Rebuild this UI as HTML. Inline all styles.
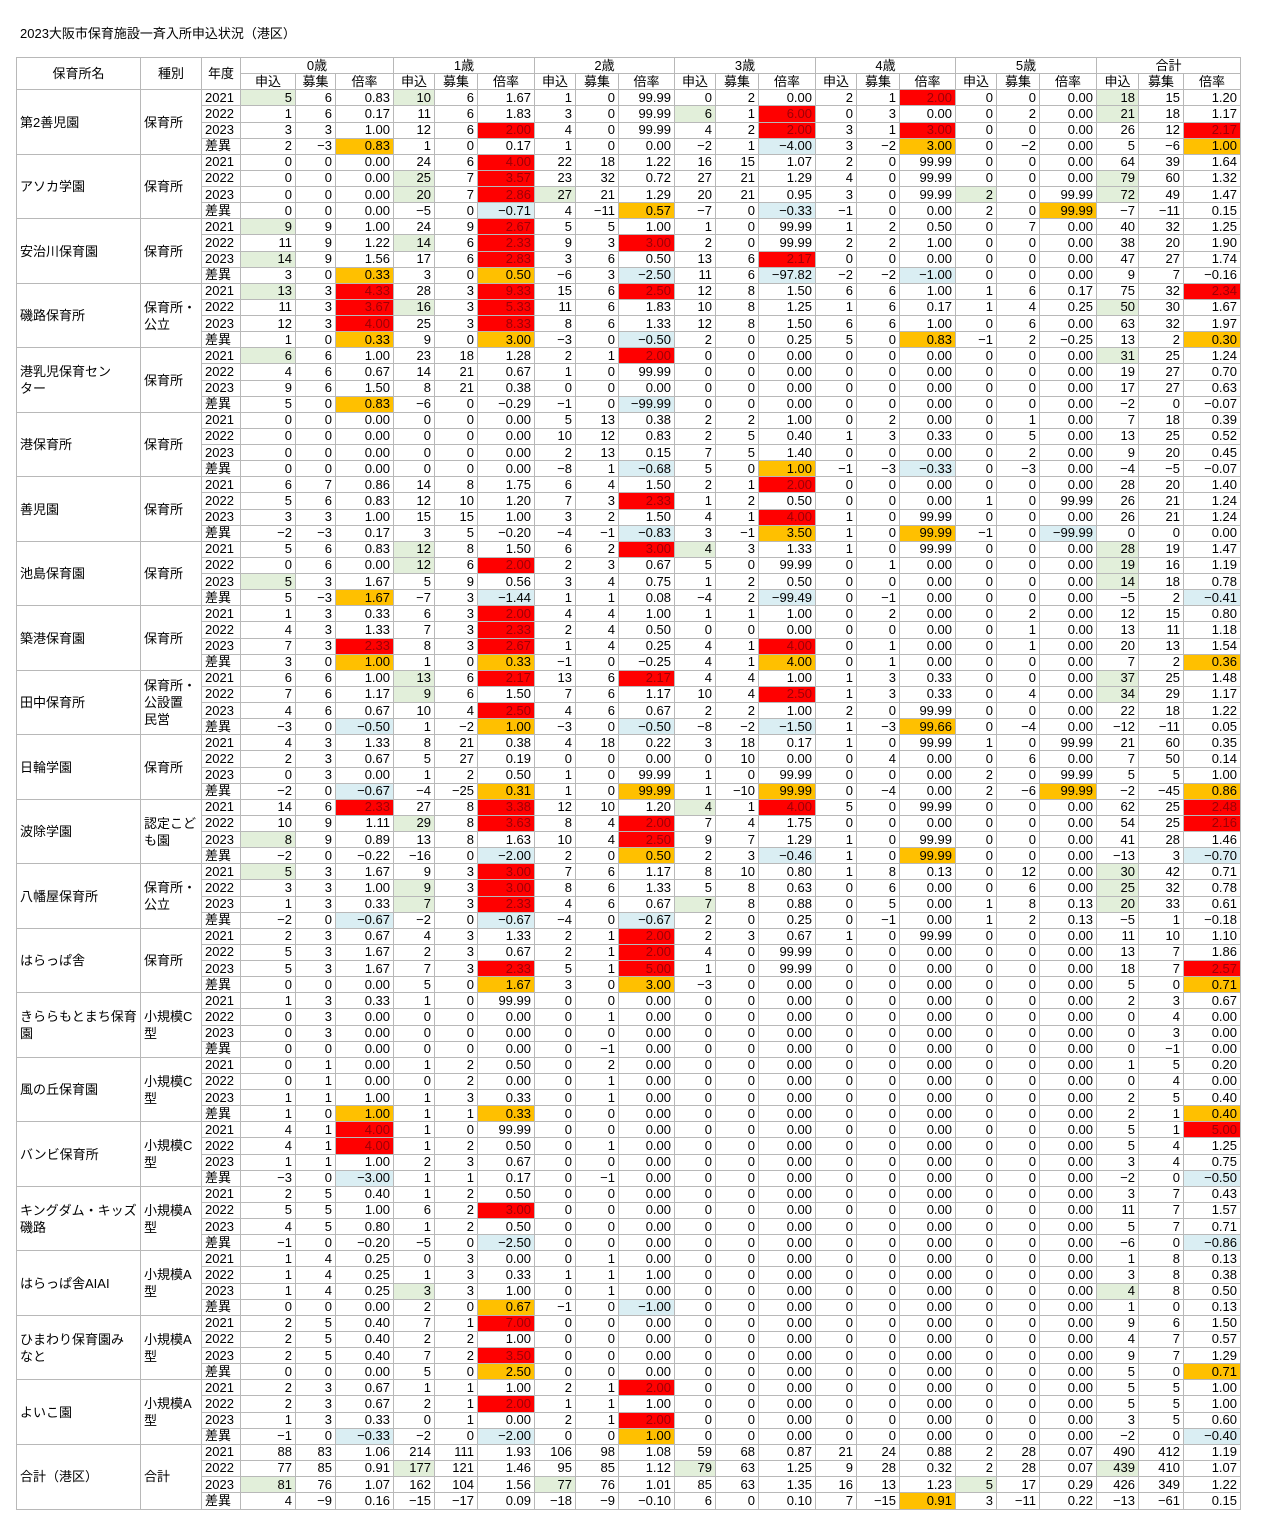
<!DOCTYPE html>
<html><head><meta charset="utf-8">
<style>
body{margin:0;background:#fff;width:1281px;height:1536px;position:relative;font-family:"Liberation Sans","Noto Sans CJK JP",sans-serif;color:#000}
.t{position:absolute;left:20px;top:23px;font-size:13px}
table{position:absolute;left:16px;top:57px;border-collapse:collapse;table-layout:fixed;width:1224px;height:1453px;font-size:13px}
td,th{border:1px solid #b8b8b8;padding:0 3px;height:15px;line-height:14px;text-align:right;white-space:nowrap;overflow:hidden;font-weight:normal}
th{text-align:center}
td.n{text-align:left;white-space:normal;line-height:17px;padding-left:3px}
td.k{text-align:left;white-space:normal;line-height:17px}
td.y{text-align:left}
.g{background:#e2efda}.r{background:#ff0000;color:#9c0006}.o{background:#ffc000}.b{background:#daeef3}
</style></head><body>
<div class="t">2023大阪市保育施設一斉入所申込状況（港区）</div>
<table>
<colgroup><col style="width:124px"><col style="width:61px"><col style="width:39px">
<col style="width:55px"><col style="width:40px"><col style="width:58px">
<col style="width:41px"><col style="width:43px"><col style="width:57px">
<col style="width:41px"><col style="width:43px"><col style="width:56px">
<col style="width:41px"><col style="width:43px"><col style="width:57px">
<col style="width:41px"><col style="width:43px"><col style="width:56px">
<col style="width:41px"><col style="width:43px"><col style="width:57px">
<col style="width:42px"><col style="width:45px"><col style="width:57px"></colgroup>
<tr><th rowspan="2">保育所名</th><th rowspan="2">種別</th><th rowspan="2">年度</th><th colspan="3">0歳</th><th colspan="3">1歳</th><th colspan="3">2歳</th><th colspan="3">3歳</th><th colspan="3">4歳</th><th colspan="3">5歳</th><th colspan="3">合計</th></tr>
<tr><th>申込</th><th>募集</th><th>倍率</th><th>申込</th><th>募集</th><th>倍率</th><th>申込</th><th>募集</th><th>倍率</th><th>申込</th><th>募集</th><th>倍率</th><th>申込</th><th>募集</th><th>倍率</th><th>申込</th><th>募集</th><th>倍率</th><th>申込</th><th>募集</th><th>倍率</th></tr>

<tr><td class="n" rowspan="4">第2善児園</td><td class="k" rowspan="4">保育所</td><td class="y">2021</td><td class="g">5</td><td>6</td><td>0.83</td><td class="g">10</td><td>6</td><td>1.67</td><td>1</td><td>0</td><td>99.99</td><td>0</td><td>2</td><td>0.00</td><td>2</td><td>1</td><td class="r">2.00</td><td>0</td><td>0</td><td>0.00</td><td class="g">18</td><td>15</td><td>1.20</td></tr>
<tr><td class="y">2022</td><td>1</td><td>6</td><td>0.17</td><td>11</td><td>6</td><td>1.83</td><td>3</td><td>0</td><td>99.99</td><td class="g">6</td><td>1</td><td class="r">6.00</td><td>0</td><td>3</td><td>0.00</td><td>0</td><td>2</td><td>0.00</td><td class="g">21</td><td>18</td><td>1.17</td></tr>
<tr><td class="y">2023</td><td>3</td><td>3</td><td>1.00</td><td>12</td><td>6</td><td class="r">2.00</td><td>4</td><td>0</td><td>99.99</td><td>4</td><td>2</td><td class="r">2.00</td><td>3</td><td>1</td><td class="r">3.00</td><td>0</td><td>0</td><td>0.00</td><td>26</td><td>12</td><td class="r">2.17</td></tr>
<tr><td class="y">差異</td><td>2</td><td>−3</td><td class="o">0.83</td><td>1</td><td>0</td><td>0.17</td><td>1</td><td>0</td><td>0.00</td><td>−2</td><td>1</td><td class="b">−4.00</td><td>3</td><td>−2</td><td class="o">3.00</td><td>0</td><td>−2</td><td>0.00</td><td>5</td><td>−6</td><td class="o">1.00</td></tr>

<tr><td class="n" rowspan="4">アソカ学園</td><td class="k" rowspan="4">保育所</td><td class="y">2021</td><td>0</td><td>0</td><td>0.00</td><td>24</td><td>6</td><td class="r">4.00</td><td>22</td><td>18</td><td>1.22</td><td>16</td><td>15</td><td>1.07</td><td>2</td><td>0</td><td>99.99</td><td>0</td><td>0</td><td>0.00</td><td>64</td><td>39</td><td>1.64</td></tr>
<tr><td class="y">2022</td><td>0</td><td>0</td><td>0.00</td><td class="g">25</td><td>7</td><td class="r">3.57</td><td>23</td><td>32</td><td>0.72</td><td>27</td><td>21</td><td>1.29</td><td>4</td><td>0</td><td>99.99</td><td>0</td><td>0</td><td>0.00</td><td class="g">79</td><td>60</td><td>1.32</td></tr>
<tr><td class="y">2023</td><td>0</td><td>0</td><td>0.00</td><td class="g">20</td><td>7</td><td class="r">2.86</td><td class="g">27</td><td>21</td><td>1.29</td><td>20</td><td>21</td><td>0.95</td><td>3</td><td>0</td><td>99.99</td><td class="g">2</td><td>0</td><td>99.99</td><td class="g">72</td><td>49</td><td>1.47</td></tr>
<tr><td class="y">差異</td><td>0</td><td>0</td><td>0.00</td><td>−5</td><td>0</td><td class="b">−0.71</td><td>4</td><td>−11</td><td class="o">0.57</td><td>−7</td><td>0</td><td class="b">−0.33</td><td>−1</td><td>0</td><td>0.00</td><td>2</td><td>0</td><td class="o">99.99</td><td>−7</td><td>−11</td><td>0.15</td></tr>

<tr><td class="n" rowspan="4">安治川保育園</td><td class="k" rowspan="4">保育所</td><td class="y">2021</td><td class="g">9</td><td>9</td><td>1.00</td><td>24</td><td>9</td><td class="r">2.67</td><td>5</td><td>5</td><td>1.00</td><td>1</td><td>0</td><td>99.99</td><td>1</td><td>2</td><td>0.50</td><td>0</td><td>7</td><td>0.00</td><td>40</td><td>32</td><td>1.25</td></tr>
<tr><td class="y">2022</td><td>11</td><td>9</td><td>1.22</td><td class="g">14</td><td>6</td><td class="r">2.33</td><td>9</td><td>3</td><td class="r">3.00</td><td>2</td><td>0</td><td>99.99</td><td>2</td><td>2</td><td>1.00</td><td>0</td><td>0</td><td>0.00</td><td>38</td><td>20</td><td>1.90</td></tr>
<tr><td class="y">2023</td><td class="g">14</td><td>9</td><td>1.56</td><td>17</td><td>6</td><td class="r">2.83</td><td>3</td><td>6</td><td>0.50</td><td>13</td><td>6</td><td class="r">2.17</td><td>0</td><td>0</td><td>0.00</td><td>0</td><td>0</td><td>0.00</td><td>47</td><td>27</td><td>1.74</td></tr>
<tr><td class="y">差異</td><td>3</td><td>0</td><td class="o">0.33</td><td>3</td><td>0</td><td class="o">0.50</td><td>−6</td><td>3</td><td class="b">−2.50</td><td>11</td><td>6</td><td class="b">−97.82</td><td>−2</td><td>−2</td><td class="b">−1.00</td><td>0</td><td>0</td><td>0.00</td><td>9</td><td>7</td><td>−0.16</td></tr>

<tr><td class="n" rowspan="4">磯路保育所</td><td class="k" rowspan="4">保育所・<br>公立</td><td class="y">2021</td><td class="g">13</td><td>3</td><td class="r">4.33</td><td>28</td><td>3</td><td class="r">9.33</td><td>15</td><td>6</td><td class="r">2.50</td><td>12</td><td>8</td><td>1.50</td><td>6</td><td>6</td><td>1.00</td><td>1</td><td>6</td><td>0.17</td><td>75</td><td>32</td><td class="r">2.34</td></tr>
<tr><td class="y">2022</td><td>11</td><td>3</td><td class="r">3.67</td><td class="g">16</td><td>3</td><td class="r">5.33</td><td>11</td><td>6</td><td>1.83</td><td>10</td><td>8</td><td>1.25</td><td>1</td><td>6</td><td>0.17</td><td>1</td><td>4</td><td>0.25</td><td class="g">50</td><td>30</td><td>1.67</td></tr>
<tr><td class="y">2023</td><td>12</td><td>3</td><td class="r">4.00</td><td>25</td><td>3</td><td class="r">8.33</td><td>8</td><td>6</td><td>1.33</td><td>12</td><td>8</td><td>1.50</td><td>6</td><td>6</td><td>1.00</td><td>0</td><td>6</td><td>0.00</td><td>63</td><td>32</td><td>1.97</td></tr>
<tr><td class="y">差異</td><td>1</td><td>0</td><td class="o">0.33</td><td>9</td><td>0</td><td class="o">3.00</td><td>−3</td><td>0</td><td class="b">−0.50</td><td>2</td><td>0</td><td>0.25</td><td>5</td><td>0</td><td class="o">0.83</td><td>−1</td><td>2</td><td>−0.25</td><td>13</td><td>2</td><td class="o">0.30</td></tr>

<tr><td class="n" rowspan="4">港乳児保育セン<br>ター</td><td class="k" rowspan="4">保育所</td><td class="y">2021</td><td class="g">6</td><td>6</td><td>1.00</td><td>23</td><td>18</td><td>1.28</td><td>2</td><td>1</td><td class="r">2.00</td><td>0</td><td>0</td><td>0.00</td><td>0</td><td>0</td><td>0.00</td><td>0</td><td>0</td><td>0.00</td><td class="g">31</td><td>25</td><td>1.24</td></tr>
<tr><td class="y">2022</td><td>4</td><td>6</td><td>0.67</td><td>14</td><td>21</td><td>0.67</td><td>1</td><td>0</td><td>99.99</td><td>0</td><td>0</td><td>0.00</td><td>0</td><td>0</td><td>0.00</td><td>0</td><td>0</td><td>0.00</td><td>19</td><td>27</td><td>0.70</td></tr>
<tr><td class="y">2023</td><td>9</td><td>6</td><td>1.50</td><td>8</td><td>21</td><td>0.38</td><td>0</td><td>0</td><td>0.00</td><td>0</td><td>0</td><td>0.00</td><td>0</td><td>0</td><td>0.00</td><td>0</td><td>0</td><td>0.00</td><td>17</td><td>27</td><td>0.63</td></tr>
<tr><td class="y">差異</td><td>5</td><td>0</td><td class="o">0.83</td><td>−6</td><td>0</td><td>−0.29</td><td>−1</td><td>0</td><td class="b">−99.99</td><td>0</td><td>0</td><td>0.00</td><td>0</td><td>0</td><td>0.00</td><td>0</td><td>0</td><td>0.00</td><td>−2</td><td>0</td><td>−0.07</td></tr>

<tr><td class="n" rowspan="4">港保育所</td><td class="k" rowspan="4">保育所</td><td class="y">2021</td><td>0</td><td>0</td><td>0.00</td><td>0</td><td>0</td><td>0.00</td><td>5</td><td>13</td><td>0.38</td><td>2</td><td>2</td><td>1.00</td><td>0</td><td>2</td><td>0.00</td><td>0</td><td>1</td><td>0.00</td><td>7</td><td>18</td><td>0.39</td></tr>
<tr><td class="y">2022</td><td>0</td><td>0</td><td>0.00</td><td>0</td><td>0</td><td>0.00</td><td>10</td><td>12</td><td>0.83</td><td>2</td><td>5</td><td>0.40</td><td>1</td><td>3</td><td>0.33</td><td>0</td><td>5</td><td>0.00</td><td>13</td><td>25</td><td>0.52</td></tr>
<tr><td class="y">2023</td><td>0</td><td>0</td><td>0.00</td><td>0</td><td>0</td><td>0.00</td><td>2</td><td>13</td><td>0.15</td><td>7</td><td>5</td><td>1.40</td><td>0</td><td>0</td><td>0.00</td><td>0</td><td>2</td><td>0.00</td><td>9</td><td>20</td><td>0.45</td></tr>
<tr><td class="y">差異</td><td>0</td><td>0</td><td>0.00</td><td>0</td><td>0</td><td>0.00</td><td>−8</td><td>1</td><td class="b">−0.68</td><td>5</td><td>0</td><td class="o">1.00</td><td>−1</td><td>−3</td><td class="b">−0.33</td><td>0</td><td>−3</td><td>0.00</td><td>−4</td><td>−5</td><td>−0.07</td></tr>

<tr><td class="n" rowspan="4">善児園</td><td class="k" rowspan="4">保育所</td><td class="y">2021</td><td>6</td><td>7</td><td>0.86</td><td>14</td><td>8</td><td>1.75</td><td>6</td><td>4</td><td>1.50</td><td>2</td><td>1</td><td class="r">2.00</td><td>0</td><td>0</td><td>0.00</td><td>0</td><td>0</td><td>0.00</td><td>28</td><td>20</td><td>1.40</td></tr>
<tr><td class="y">2022</td><td>5</td><td>6</td><td>0.83</td><td>12</td><td>10</td><td>1.20</td><td>7</td><td>3</td><td class="r">2.33</td><td>1</td><td>2</td><td>0.50</td><td>0</td><td>0</td><td>0.00</td><td>1</td><td>0</td><td>99.99</td><td>26</td><td>21</td><td>1.24</td></tr>
<tr><td class="y">2023</td><td>3</td><td>3</td><td>1.00</td><td>15</td><td>15</td><td>1.00</td><td>3</td><td>2</td><td>1.50</td><td>4</td><td>1</td><td class="r">4.00</td><td>1</td><td>0</td><td>99.99</td><td>0</td><td>0</td><td>0.00</td><td>26</td><td>21</td><td>1.24</td></tr>
<tr><td class="y">差異</td><td>−2</td><td>−3</td><td>0.17</td><td>3</td><td>5</td><td>−0.20</td><td>−4</td><td>−1</td><td class="b">−0.83</td><td>3</td><td>−1</td><td class="o">3.50</td><td>1</td><td>0</td><td class="o">99.99</td><td>−1</td><td>0</td><td class="b">−99.99</td><td>0</td><td>0</td><td>0.00</td></tr>

<tr><td class="n" rowspan="4">池島保育園</td><td class="k" rowspan="4">保育所</td><td class="y">2021</td><td>5</td><td>6</td><td>0.83</td><td class="g">12</td><td>8</td><td>1.50</td><td>6</td><td>2</td><td class="r">3.00</td><td class="g">4</td><td>3</td><td>1.33</td><td>1</td><td>0</td><td>99.99</td><td>0</td><td>0</td><td>0.00</td><td class="g">28</td><td>19</td><td>1.47</td></tr>
<tr><td class="y">2022</td><td>0</td><td>6</td><td>0.00</td><td class="g">12</td><td>6</td><td class="r">2.00</td><td>2</td><td>3</td><td>0.67</td><td>5</td><td>0</td><td>99.99</td><td>0</td><td>1</td><td>0.00</td><td>0</td><td>0</td><td>0.00</td><td class="g">19</td><td>16</td><td>1.19</td></tr>
<tr><td class="y">2023</td><td class="g">5</td><td>3</td><td>1.67</td><td>5</td><td>9</td><td>0.56</td><td>3</td><td>4</td><td>0.75</td><td>1</td><td>2</td><td>0.50</td><td>0</td><td>0</td><td>0.00</td><td>0</td><td>0</td><td>0.00</td><td class="g">14</td><td>18</td><td>0.78</td></tr>
<tr><td class="y">差異</td><td>5</td><td>−3</td><td class="o">1.67</td><td>−7</td><td>3</td><td class="b">−1.44</td><td>1</td><td>1</td><td>0.08</td><td>−4</td><td>2</td><td class="b">−99.49</td><td>0</td><td>−1</td><td>0.00</td><td>0</td><td>0</td><td>0.00</td><td>−5</td><td>2</td><td class="b">−0.41</td></tr>

<tr><td class="n" rowspan="4">築港保育園</td><td class="k" rowspan="4">保育所</td><td class="y">2021</td><td>1</td><td>3</td><td>0.33</td><td>6</td><td>3</td><td class="r">2.00</td><td>4</td><td>4</td><td>1.00</td><td>1</td><td>1</td><td>1.00</td><td>0</td><td>2</td><td>0.00</td><td>0</td><td>2</td><td>0.00</td><td>12</td><td>15</td><td>0.80</td></tr>
<tr><td class="y">2022</td><td>4</td><td>3</td><td>1.33</td><td>7</td><td>3</td><td class="r">2.33</td><td>2</td><td>4</td><td>0.50</td><td>0</td><td>0</td><td>0.00</td><td>0</td><td>0</td><td>0.00</td><td>0</td><td>1</td><td>0.00</td><td>13</td><td>11</td><td>1.18</td></tr>
<tr><td class="y">2023</td><td>7</td><td>3</td><td class="r">2.33</td><td>8</td><td>3</td><td class="r">2.67</td><td>1</td><td>4</td><td>0.25</td><td>4</td><td>1</td><td class="r">4.00</td><td>0</td><td>1</td><td>0.00</td><td>0</td><td>1</td><td>0.00</td><td>20</td><td>13</td><td>1.54</td></tr>
<tr><td class="y">差異</td><td>3</td><td>0</td><td class="o">1.00</td><td>1</td><td>0</td><td class="o">0.33</td><td>−1</td><td>0</td><td>−0.25</td><td>4</td><td>1</td><td class="o">4.00</td><td>0</td><td>1</td><td>0.00</td><td>0</td><td>0</td><td>0.00</td><td>7</td><td>2</td><td class="o">0.36</td></tr>

<tr><td class="n" rowspan="4">田中保育所</td><td class="k" rowspan="4">保育所・<br>公設置<br>民営</td><td class="y">2021</td><td>6</td><td>6</td><td>1.00</td><td class="g">13</td><td>6</td><td class="r">2.17</td><td>13</td><td>6</td><td class="r">2.17</td><td>4</td><td>4</td><td>1.00</td><td>1</td><td>3</td><td>0.33</td><td>0</td><td>0</td><td>0.00</td><td class="g">37</td><td>25</td><td>1.48</td></tr>
<tr><td class="y">2022</td><td>7</td><td>6</td><td>1.17</td><td class="g">9</td><td>6</td><td>1.50</td><td>7</td><td>6</td><td>1.17</td><td>10</td><td>4</td><td class="r">2.50</td><td>1</td><td>3</td><td>0.33</td><td>0</td><td>4</td><td>0.00</td><td class="g">34</td><td>29</td><td>1.17</td></tr>
<tr><td class="y">2023</td><td>4</td><td>6</td><td>0.67</td><td>10</td><td>4</td><td class="r">2.50</td><td>4</td><td>6</td><td>0.67</td><td>2</td><td>2</td><td>1.00</td><td>2</td><td>0</td><td>99.99</td><td>0</td><td>0</td><td>0.00</td><td>22</td><td>18</td><td>1.22</td></tr>
<tr><td class="y">差異</td><td>−3</td><td>0</td><td class="b">−0.50</td><td>1</td><td>−2</td><td class="o">1.00</td><td>−3</td><td>0</td><td class="b">−0.50</td><td>−8</td><td>−2</td><td class="b">−1.50</td><td>1</td><td>−3</td><td class="o">99.66</td><td>0</td><td>−4</td><td>0.00</td><td>−12</td><td>−11</td><td>0.05</td></tr>

<tr><td class="n" rowspan="4">日輪学園</td><td class="k" rowspan="4">保育所</td><td class="y">2021</td><td>4</td><td>3</td><td>1.33</td><td>8</td><td>21</td><td>0.38</td><td>4</td><td>18</td><td>0.22</td><td>3</td><td>18</td><td>0.17</td><td>1</td><td>0</td><td>99.99</td><td>1</td><td>0</td><td>99.99</td><td>21</td><td>60</td><td>0.35</td></tr>
<tr><td class="y">2022</td><td>2</td><td>3</td><td>0.67</td><td>5</td><td>27</td><td>0.19</td><td>0</td><td>0</td><td>0.00</td><td>0</td><td>10</td><td>0.00</td><td>0</td><td>4</td><td>0.00</td><td>0</td><td>6</td><td>0.00</td><td>7</td><td>50</td><td>0.14</td></tr>
<tr><td class="y">2023</td><td>0</td><td>3</td><td>0.00</td><td>1</td><td>2</td><td>0.50</td><td>1</td><td>0</td><td>99.99</td><td>1</td><td>0</td><td>99.99</td><td>0</td><td>0</td><td>0.00</td><td>2</td><td>0</td><td>99.99</td><td>5</td><td>5</td><td>1.00</td></tr>
<tr><td class="y">差異</td><td>−2</td><td>0</td><td class="b">−0.67</td><td>−4</td><td>−25</td><td class="o">0.31</td><td>1</td><td>0</td><td class="o">99.99</td><td>1</td><td>−10</td><td class="o">99.99</td><td>0</td><td>−4</td><td>0.00</td><td>2</td><td>−6</td><td class="o">99.99</td><td>−2</td><td>−45</td><td class="o">0.86</td></tr>

<tr><td class="n" rowspan="4">波除学園</td><td class="k" rowspan="4">認定こど<br>も園</td><td class="y">2021</td><td>14</td><td>6</td><td class="r">2.33</td><td>27</td><td>8</td><td class="r">3.38</td><td>12</td><td>10</td><td>1.20</td><td class="g">4</td><td>1</td><td class="r">4.00</td><td>5</td><td>0</td><td>99.99</td><td>0</td><td>0</td><td>0.00</td><td>62</td><td>25</td><td class="r">2.48</td></tr>
<tr><td class="y">2022</td><td>10</td><td>9</td><td>1.11</td><td class="g">29</td><td>8</td><td class="r">3.63</td><td>8</td><td>4</td><td class="r">2.00</td><td>7</td><td>4</td><td>1.75</td><td>0</td><td>0</td><td>0.00</td><td>0</td><td>0</td><td>0.00</td><td>54</td><td>25</td><td class="r">2.16</td></tr>
<tr><td class="y">2023</td><td class="g">8</td><td>9</td><td>0.89</td><td>13</td><td>8</td><td>1.63</td><td>10</td><td>4</td><td class="r">2.50</td><td>9</td><td>7</td><td>1.29</td><td>1</td><td>0</td><td>99.99</td><td>0</td><td>0</td><td>0.00</td><td>41</td><td>28</td><td>1.46</td></tr>
<tr><td class="y">差異</td><td>−2</td><td>0</td><td>−0.22</td><td>−16</td><td>0</td><td class="b">−2.00</td><td>2</td><td>0</td><td class="o">0.50</td><td>2</td><td>3</td><td class="b">−0.46</td><td>1</td><td>0</td><td class="o">99.99</td><td>0</td><td>0</td><td>0.00</td><td>−13</td><td>3</td><td class="b">−0.70</td></tr>

<tr><td class="n" rowspan="4">八幡屋保育所</td><td class="k" rowspan="4">保育所・<br>公立</td><td class="y">2021</td><td class="g">5</td><td>3</td><td>1.67</td><td>9</td><td>3</td><td class="r">3.00</td><td>7</td><td>6</td><td>1.17</td><td>8</td><td>10</td><td>0.80</td><td>1</td><td>8</td><td>0.13</td><td>0</td><td>12</td><td>0.00</td><td class="g">30</td><td>42</td><td>0.71</td></tr>
<tr><td class="y">2022</td><td>3</td><td>3</td><td>1.00</td><td class="g">9</td><td>3</td><td class="r">3.00</td><td>8</td><td>6</td><td>1.33</td><td>5</td><td>8</td><td>0.63</td><td>0</td><td>6</td><td>0.00</td><td>0</td><td>6</td><td>0.00</td><td class="g">25</td><td>32</td><td>0.78</td></tr>
<tr><td class="y">2023</td><td>1</td><td>3</td><td>0.33</td><td class="g">7</td><td>3</td><td class="r">2.33</td><td>4</td><td>6</td><td>0.67</td><td class="g">7</td><td>8</td><td>0.88</td><td>0</td><td>5</td><td>0.00</td><td>1</td><td>8</td><td>0.13</td><td class="g">20</td><td>33</td><td>0.61</td></tr>
<tr><td class="y">差異</td><td>−2</td><td>0</td><td class="b">−0.67</td><td>−2</td><td>0</td><td class="b">−0.67</td><td>−4</td><td>0</td><td class="b">−0.67</td><td>2</td><td>0</td><td>0.25</td><td>0</td><td>−1</td><td>0.00</td><td>1</td><td>2</td><td>0.13</td><td>−5</td><td>1</td><td>−0.18</td></tr>

<tr><td class="n" rowspan="4">はらっぱ舎</td><td class="k" rowspan="4">保育所</td><td class="y">2021</td><td>2</td><td>3</td><td>0.67</td><td>4</td><td>3</td><td>1.33</td><td>2</td><td>1</td><td class="r">2.00</td><td>2</td><td>3</td><td>0.67</td><td>1</td><td>0</td><td>99.99</td><td>0</td><td>0</td><td>0.00</td><td>11</td><td>10</td><td>1.10</td></tr>
<tr><td class="y">2022</td><td>5</td><td>3</td><td>1.67</td><td>2</td><td>3</td><td>0.67</td><td>2</td><td>1</td><td class="r">2.00</td><td>4</td><td>0</td><td>99.99</td><td>0</td><td>0</td><td>0.00</td><td>0</td><td>0</td><td>0.00</td><td>13</td><td>7</td><td>1.86</td></tr>
<tr><td class="y">2023</td><td>5</td><td>3</td><td>1.67</td><td>7</td><td>3</td><td class="r">2.33</td><td>5</td><td>1</td><td class="r">5.00</td><td>1</td><td>0</td><td>99.99</td><td>0</td><td>0</td><td>0.00</td><td>0</td><td>0</td><td>0.00</td><td>18</td><td>7</td><td class="r">2.57</td></tr>
<tr><td class="y">差異</td><td>0</td><td>0</td><td>0.00</td><td>5</td><td>0</td><td class="o">1.67</td><td>3</td><td>0</td><td class="o">3.00</td><td>−3</td><td>0</td><td>0.00</td><td>0</td><td>0</td><td>0.00</td><td>0</td><td>0</td><td>0.00</td><td>5</td><td>0</td><td class="o">0.71</td></tr>

<tr><td class="n" rowspan="4">きららもとまち保育<br>園</td><td class="k" rowspan="4">小規模C<br>型</td><td class="y">2021</td><td>1</td><td>3</td><td>0.33</td><td>1</td><td>0</td><td>99.99</td><td>0</td><td>0</td><td>0.00</td><td>0</td><td>0</td><td>0.00</td><td>0</td><td>0</td><td>0.00</td><td>0</td><td>0</td><td>0.00</td><td>2</td><td>3</td><td>0.67</td></tr>
<tr><td class="y">2022</td><td>0</td><td>3</td><td>0.00</td><td>0</td><td>0</td><td>0.00</td><td>0</td><td>1</td><td>0.00</td><td>0</td><td>0</td><td>0.00</td><td>0</td><td>0</td><td>0.00</td><td>0</td><td>0</td><td>0.00</td><td>0</td><td>4</td><td>0.00</td></tr>
<tr><td class="y">2023</td><td>0</td><td>3</td><td>0.00</td><td>0</td><td>0</td><td>0.00</td><td>0</td><td>0</td><td>0.00</td><td>0</td><td>0</td><td>0.00</td><td>0</td><td>0</td><td>0.00</td><td>0</td><td>0</td><td>0.00</td><td>0</td><td>3</td><td>0.00</td></tr>
<tr><td class="y">差異</td><td>0</td><td>0</td><td>0.00</td><td>0</td><td>0</td><td>0.00</td><td>0</td><td>−1</td><td>0.00</td><td>0</td><td>0</td><td>0.00</td><td>0</td><td>0</td><td>0.00</td><td>0</td><td>0</td><td>0.00</td><td>0</td><td>−1</td><td>0.00</td></tr>

<tr><td class="n" rowspan="4">風の丘保育園</td><td class="k" rowspan="4">小規模C<br>型</td><td class="y">2021</td><td>0</td><td>1</td><td>0.00</td><td>1</td><td>2</td><td>0.50</td><td>0</td><td>2</td><td>0.00</td><td>0</td><td>0</td><td>0.00</td><td>0</td><td>0</td><td>0.00</td><td>0</td><td>0</td><td>0.00</td><td>1</td><td>5</td><td>0.20</td></tr>
<tr><td class="y">2022</td><td>0</td><td>1</td><td>0.00</td><td>0</td><td>2</td><td>0.00</td><td>0</td><td>1</td><td>0.00</td><td>0</td><td>0</td><td>0.00</td><td>0</td><td>0</td><td>0.00</td><td>0</td><td>0</td><td>0.00</td><td>0</td><td>4</td><td>0.00</td></tr>
<tr><td class="y">2023</td><td>1</td><td>1</td><td>1.00</td><td>1</td><td>3</td><td>0.33</td><td>0</td><td>1</td><td>0.00</td><td>0</td><td>0</td><td>0.00</td><td>0</td><td>0</td><td>0.00</td><td>0</td><td>0</td><td>0.00</td><td>2</td><td>5</td><td>0.40</td></tr>
<tr><td class="y">差異</td><td>1</td><td>0</td><td class="o">1.00</td><td>1</td><td>1</td><td class="o">0.33</td><td>0</td><td>0</td><td>0.00</td><td>0</td><td>0</td><td>0.00</td><td>0</td><td>0</td><td>0.00</td><td>0</td><td>0</td><td>0.00</td><td>2</td><td>1</td><td class="o">0.40</td></tr>

<tr><td class="n" rowspan="4">バンビ保育所</td><td class="k" rowspan="4">小規模C<br>型</td><td class="y">2021</td><td>4</td><td>1</td><td class="r">4.00</td><td>1</td><td>0</td><td>99.99</td><td>0</td><td>0</td><td>0.00</td><td>0</td><td>0</td><td>0.00</td><td>0</td><td>0</td><td>0.00</td><td>0</td><td>0</td><td>0.00</td><td>5</td><td>1</td><td class="r">5.00</td></tr>
<tr><td class="y">2022</td><td>4</td><td>1</td><td class="r">4.00</td><td>1</td><td>2</td><td>0.50</td><td>0</td><td>1</td><td>0.00</td><td>0</td><td>0</td><td>0.00</td><td>0</td><td>0</td><td>0.00</td><td>0</td><td>0</td><td>0.00</td><td>5</td><td>4</td><td>1.25</td></tr>
<tr><td class="y">2023</td><td>1</td><td>1</td><td>1.00</td><td>2</td><td>3</td><td>0.67</td><td>0</td><td>0</td><td>0.00</td><td>0</td><td>0</td><td>0.00</td><td>0</td><td>0</td><td>0.00</td><td>0</td><td>0</td><td>0.00</td><td>3</td><td>4</td><td>0.75</td></tr>
<tr><td class="y">差異</td><td>−3</td><td>0</td><td class="b">−3.00</td><td>1</td><td>1</td><td>0.17</td><td>0</td><td>−1</td><td>0.00</td><td>0</td><td>0</td><td>0.00</td><td>0</td><td>0</td><td>0.00</td><td>0</td><td>0</td><td>0.00</td><td>−2</td><td>0</td><td class="b">−0.50</td></tr>

<tr><td class="n" rowspan="4">キングダム・キッズ<br>磯路</td><td class="k" rowspan="4">小規模A<br>型</td><td class="y">2021</td><td>2</td><td>5</td><td>0.40</td><td>1</td><td>2</td><td>0.50</td><td>0</td><td>0</td><td>0.00</td><td>0</td><td>0</td><td>0.00</td><td>0</td><td>0</td><td>0.00</td><td>0</td><td>0</td><td>0.00</td><td>3</td><td>7</td><td>0.43</td></tr>
<tr><td class="y">2022</td><td>5</td><td>5</td><td>1.00</td><td>6</td><td>2</td><td class="r">3.00</td><td>0</td><td>0</td><td>0.00</td><td>0</td><td>0</td><td>0.00</td><td>0</td><td>0</td><td>0.00</td><td>0</td><td>0</td><td>0.00</td><td>11</td><td>7</td><td>1.57</td></tr>
<tr><td class="y">2023</td><td>4</td><td>5</td><td>0.80</td><td>1</td><td>2</td><td>0.50</td><td>0</td><td>0</td><td>0.00</td><td>0</td><td>0</td><td>0.00</td><td>0</td><td>0</td><td>0.00</td><td>0</td><td>0</td><td>0.00</td><td>5</td><td>7</td><td>0.71</td></tr>
<tr><td class="y">差異</td><td>−1</td><td>0</td><td>−0.20</td><td>−5</td><td>0</td><td class="b">−2.50</td><td>0</td><td>0</td><td>0.00</td><td>0</td><td>0</td><td>0.00</td><td>0</td><td>0</td><td>0.00</td><td>0</td><td>0</td><td>0.00</td><td>−6</td><td>0</td><td class="b">−0.86</td></tr>

<tr><td class="n" rowspan="4">はらっぱ舎AIAI</td><td class="k" rowspan="4">小規模A<br>型</td><td class="y">2021</td><td>1</td><td>4</td><td>0.25</td><td>0</td><td>3</td><td>0.00</td><td>0</td><td>1</td><td>0.00</td><td>0</td><td>0</td><td>0.00</td><td>0</td><td>0</td><td>0.00</td><td>0</td><td>0</td><td>0.00</td><td>1</td><td>8</td><td>0.13</td></tr>
<tr><td class="y">2022</td><td>1</td><td>4</td><td>0.25</td><td>1</td><td>3</td><td>0.33</td><td>1</td><td>1</td><td>1.00</td><td>0</td><td>0</td><td>0.00</td><td>0</td><td>0</td><td>0.00</td><td>0</td><td>0</td><td>0.00</td><td>3</td><td>8</td><td>0.38</td></tr>
<tr><td class="y">2023</td><td>1</td><td>4</td><td>0.25</td><td class="g">3</td><td>3</td><td>1.00</td><td>0</td><td>1</td><td>0.00</td><td>0</td><td>0</td><td>0.00</td><td>0</td><td>0</td><td>0.00</td><td>0</td><td>0</td><td>0.00</td><td class="g">4</td><td>8</td><td>0.50</td></tr>
<tr><td class="y">差異</td><td>0</td><td>0</td><td>0.00</td><td>2</td><td>0</td><td class="o">0.67</td><td>−1</td><td>0</td><td class="b">−1.00</td><td>0</td><td>0</td><td>0.00</td><td>0</td><td>0</td><td>0.00</td><td>0</td><td>0</td><td>0.00</td><td>1</td><td>0</td><td>0.13</td></tr>

<tr><td class="n" rowspan="4">ひまわり保育園み<br>なと</td><td class="k" rowspan="4">小規模A<br>型</td><td class="y">2021</td><td>2</td><td>5</td><td>0.40</td><td>7</td><td>1</td><td class="r">7.00</td><td>0</td><td>0</td><td>0.00</td><td>0</td><td>0</td><td>0.00</td><td>0</td><td>0</td><td>0.00</td><td>0</td><td>0</td><td>0.00</td><td>9</td><td>6</td><td>1.50</td></tr>
<tr><td class="y">2022</td><td>2</td><td>5</td><td>0.40</td><td>2</td><td>2</td><td>1.00</td><td>0</td><td>0</td><td>0.00</td><td>0</td><td>0</td><td>0.00</td><td>0</td><td>0</td><td>0.00</td><td>0</td><td>0</td><td>0.00</td><td>4</td><td>7</td><td>0.57</td></tr>
<tr><td class="y">2023</td><td>2</td><td>5</td><td>0.40</td><td>7</td><td>2</td><td class="r">3.50</td><td>0</td><td>0</td><td>0.00</td><td>0</td><td>0</td><td>0.00</td><td>0</td><td>0</td><td>0.00</td><td>0</td><td>0</td><td>0.00</td><td>9</td><td>7</td><td>1.29</td></tr>
<tr><td class="y">差異</td><td>0</td><td>0</td><td>0.00</td><td>5</td><td>0</td><td class="o">2.50</td><td>0</td><td>0</td><td>0.00</td><td>0</td><td>0</td><td>0.00</td><td>0</td><td>0</td><td>0.00</td><td>0</td><td>0</td><td>0.00</td><td>5</td><td>0</td><td class="o">0.71</td></tr>

<tr><td class="n" rowspan="4">よいこ園</td><td class="k" rowspan="4">小規模A<br>型</td><td class="y">2021</td><td>2</td><td>3</td><td>0.67</td><td>1</td><td>1</td><td>1.00</td><td>2</td><td>1</td><td class="r">2.00</td><td>0</td><td>0</td><td>0.00</td><td>0</td><td>0</td><td>0.00</td><td>0</td><td>0</td><td>0.00</td><td>5</td><td>5</td><td>1.00</td></tr>
<tr><td class="y">2022</td><td>2</td><td>3</td><td>0.67</td><td>2</td><td>1</td><td class="r">2.00</td><td>1</td><td>1</td><td>1.00</td><td>0</td><td>0</td><td>0.00</td><td>0</td><td>0</td><td>0.00</td><td>0</td><td>0</td><td>0.00</td><td>5</td><td>5</td><td>1.00</td></tr>
<tr><td class="y">2023</td><td>1</td><td>3</td><td>0.33</td><td>0</td><td>1</td><td>0.00</td><td>2</td><td>1</td><td class="r">2.00</td><td>0</td><td>0</td><td>0.00</td><td>0</td><td>0</td><td>0.00</td><td>0</td><td>0</td><td>0.00</td><td>3</td><td>5</td><td>0.60</td></tr>
<tr><td class="y">差異</td><td>−1</td><td>0</td><td class="b">−0.33</td><td>−2</td><td>0</td><td class="b">−2.00</td><td>0</td><td>0</td><td class="o">1.00</td><td>0</td><td>0</td><td>0.00</td><td>0</td><td>0</td><td>0.00</td><td>0</td><td>0</td><td>0.00</td><td>−2</td><td>0</td><td class="b">−0.40</td></tr>

<tr><td class="n" rowspan="4">合計（港区）</td><td class="k" rowspan="4">合計</td><td class="y">2021</td><td>88</td><td>83</td><td>1.06</td><td>214</td><td>111</td><td>1.93</td><td>106</td><td>98</td><td>1.08</td><td>59</td><td>68</td><td>0.87</td><td>21</td><td>24</td><td>0.88</td><td>2</td><td>28</td><td>0.07</td><td>490</td><td>412</td><td>1.19</td></tr>
<tr><td class="y">2022</td><td>77</td><td>85</td><td>0.91</td><td class="g">177</td><td>121</td><td>1.46</td><td>95</td><td>85</td><td>1.12</td><td class="g">79</td><td>63</td><td>1.25</td><td>9</td><td>28</td><td>0.32</td><td>2</td><td>28</td><td>0.07</td><td class="g">439</td><td>410</td><td>1.07</td></tr>
<tr><td class="y">2023</td><td class="g">81</td><td>76</td><td>1.07</td><td>162</td><td>104</td><td>1.56</td><td class="g">77</td><td>76</td><td>1.01</td><td>85</td><td>63</td><td>1.35</td><td>16</td><td>13</td><td>1.23</td><td class="g">5</td><td>17</td><td>0.29</td><td>426</td><td>349</td><td>1.22</td></tr>
<tr><td class="y">差異</td><td>4</td><td>−9</td><td>0.16</td><td>−15</td><td>−17</td><td>0.09</td><td>−18</td><td>−9</td><td>−0.10</td><td>6</td><td>0</td><td>0.10</td><td>7</td><td>−15</td><td class="o">0.91</td><td>3</td><td>−11</td><td>0.22</td><td>−13</td><td>−61</td><td>0.15</td></tr>
</table>
</body></html>
